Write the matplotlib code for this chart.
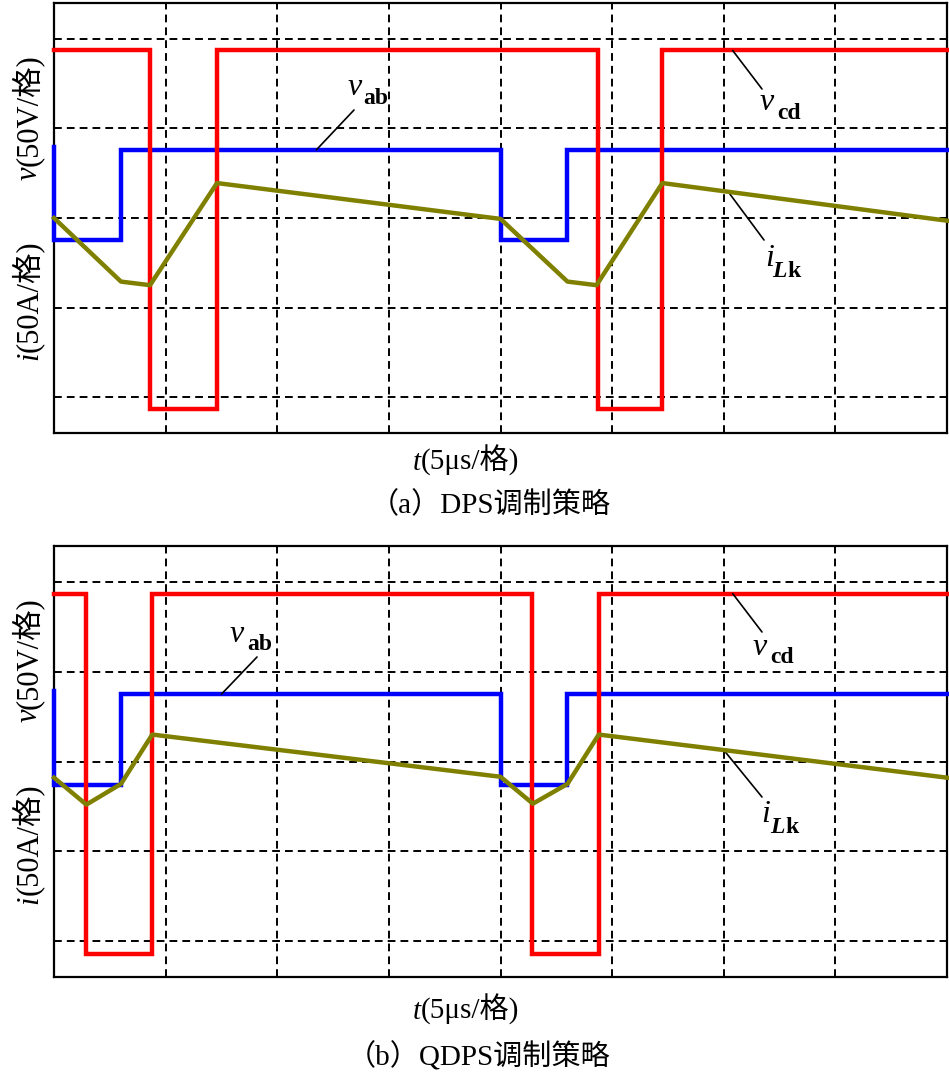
import matplotlib
matplotlib.use("Agg")
import matplotlib.pyplot as plt
import numpy as np

W, H = 949, 1076
SERIF = ['Liberation Serif', 'Noto Sans CJK SC']

# ---- data (time in grid divisions of 5us, amplitude in grid divisions) ----
# (a) DPS
a_vcd_t = [0, 0.86, 0.86, 1.46, 1.46, 4.87, 4.87, 5.45, 5.45, 8]
a_vcd_v = [1.87, 1.87, -2.13, -2.13, 1.87, 1.87, -2.13, -2.13, 1.87, 1.87]
a_vab_t = [0, 0, 0.6, 0.6, 4.0, 4.0, 4.6, 4.6, 8]
a_vab_v = [0.79, -0.25, -0.25, 0.76, 0.76, -0.25, -0.25, 0.76, 0.76]
a_ilk_t = [0, 0.6, 0.86, 1.46, 4.0, 4.6, 4.86, 5.45, 8]
a_ilk_v = [0.0, -0.71, -0.75, 0.39, -0.01, -0.71, -0.75, 0.39, -0.03]

# (b) QDPS
b_vcd_t = [0, 0.29, 0.29, 0.88, 0.88, 4.28, 4.28, 4.88, 4.88, 8]
b_vcd_v = [1.87, 1.87, -2.14, -2.14, 1.87, 1.87, -2.14, -2.14, 1.87, 1.87]
b_vab_t = [0, 0, 0.6, 0.6, 4.0, 4.0, 4.6, 4.6, 8]
b_vab_v = [0.79, -0.26, -0.26, 0.75, 0.75, -0.26, -0.26, 0.75, 0.75]
b_ilk_t = [0, 0.29, 0.6, 0.88, 4.0, 4.29, 4.6, 4.88, 8]
b_ilk_v = [-0.18, -0.48, -0.25, 0.30, -0.17, -0.47, -0.25, 0.30, -0.18]

captions = ['（a）DPS调制策略', '（b）QDPS调制策略']


def fp(px, py):
    # figure pixel (from top-left) -> figure fraction
    return (px / W, 1 - py / H)


fig = plt.figure(figsize=(W / 100, H / 100), dpi=100)

panels = [
    dict(top=3, bot=433, vcd=(a_vcd_t, a_vcd_v), vab=(a_vab_t, a_vab_v), ilk=(a_ilk_t, a_ilk_v),
         ab_at=2.35, cd_at=6.08, lk_at=6.04),
    dict(top=546, bot=977, vcd=(b_vcd_t, b_vcd_v), vab=(b_vab_t, b_vab_v), ilk=(b_ilk_t, b_ilk_v),
         ab_at=1.5, cd_at=6.08, lk_at=6.0),
]

for k, p in enumerate(panels):
    top, bot = p['top'], p['bot']
    ax = fig.add_axes([54 / W, 1 - bot / H, (947 - 54) / W, (bot - top) / H])
    ax.set_xlim(0, 8)
    ax.set_ylim(-2.4, 2.4)
    for x in range(1, 8):
        ax.axvline(x, color='k', lw=1.4, ls=(0, (4, 2.6)), zorder=1)
    for y in range(-2, 3):
        ax.axhline(y, color='k', lw=1.4, ls=(0, (4, 2.6)), zorder=1)
    ax.set_xticks([])
    ax.set_yticks([])
    for s in ax.spines.values():
        s.set_linewidth(1.6)

    ax.plot(*p['vab'], color='#0000ff', lw=3.2, zorder=3, clip_on=False, solid_joinstyle='miter')
    ax.plot(*p['vcd'], color='#ff0000', lw=3.2, zorder=3, clip_on=False, solid_joinstyle='miter')
    ax.plot(*p['ilk'], color='#808000', lw=3.2, zorder=4, clip_on=False)

    # leader lines
    off = top - 3
    leaders = [
        ((p['ab_at'], np.interp(p['ab_at'], p['vab'][0][2:], p['vab'][1][2:])),
         (354, 110) if k == 0 else (257, 657)),
        ((p['cd_at'], np.interp(p['cd_at'], p['vcd'][0], p['vcd'][1])), (762, 89 + off)),
        ((p['lk_at'], np.interp(p['lk_at'], p['ilk'][0], p['ilk'][1])), (764, 240 + off) if k == 0 else (762, 797)),
    ]
    for xy, end in leaders:
        ax.annotate('', xy=xy, xytext=fp(*end), textcoords='figure fraction',
                    arrowprops=dict(arrowstyle='-', color='k', lw=1.2, shrinkA=0, shrinkB=0))

    # y labels
    for sym, rest, py in [('v', '(50V/格)', 166 + off), ('i', '(50A/格)', 352 + off)]:
        fig.text(*fp(37, py), sym, rotation=90, rotation_mode='anchor', ha='right', va='baseline',
                 fontsize=22, style='italic', family=SERIF)
        fig.text(*fp(37, py), rest, rotation=90, rotation_mode='anchor', ha='left', va='baseline',
                 fontsize=22, family=SERIF)

    # x label
    xb = 470 if k == 0 else 1019
    fig.text(*fp(421, xb), 't', ha='right', va='baseline', fontsize=21, style='italic', family=SERIF)
    fig.text(*fp(421, xb), '(5μs/格)', ha='left', va='baseline', fontsize=21, family=SERIF)

    # caption
    cb = 513 if k == 0 else 1066
    cx = 490 if k == 0 else 479
    fig.text(*fp(cx, cb), captions[k], ha='center', va='baseline', fontsize=21, family=SERIF)

# curve labels
labels = [
    ('v', 'ab', (348, 95), (363, 104)),
    ('v', 'cd', (760, 110), (777, 119)),
    ('i', 'Lk', (765, 266), (772, 277)),
    ('v', 'ab', (230, 642), (247, 650)),
    ('v', 'cd', (753, 655), (770, 663)),
    ('i', 'Lk', (761, 822), (770, 833)),
]
for main, sub, mp, sp in labels:
    fig.text(*fp(*mp), main, ha='left', va='baseline', fontsize=23, style='italic', family=SERIF)
    if sub == 'Lk':
        fig.text(*fp(*sp), 'L', ha='left', va='baseline', fontsize=17, style='italic',
                 weight='bold', family=SERIF)
        fig.text(*fp(sp[0] + 15, sp[1]), 'k', ha='left', va='baseline', fontsize=17,
                 weight='bold', family=SERIF)
    else:
        fig.text(*fp(*sp), sub, ha='left', va='baseline', fontsize=17, weight='bold', family=SERIF)

fig.savefig('out.png', dpi=100)
